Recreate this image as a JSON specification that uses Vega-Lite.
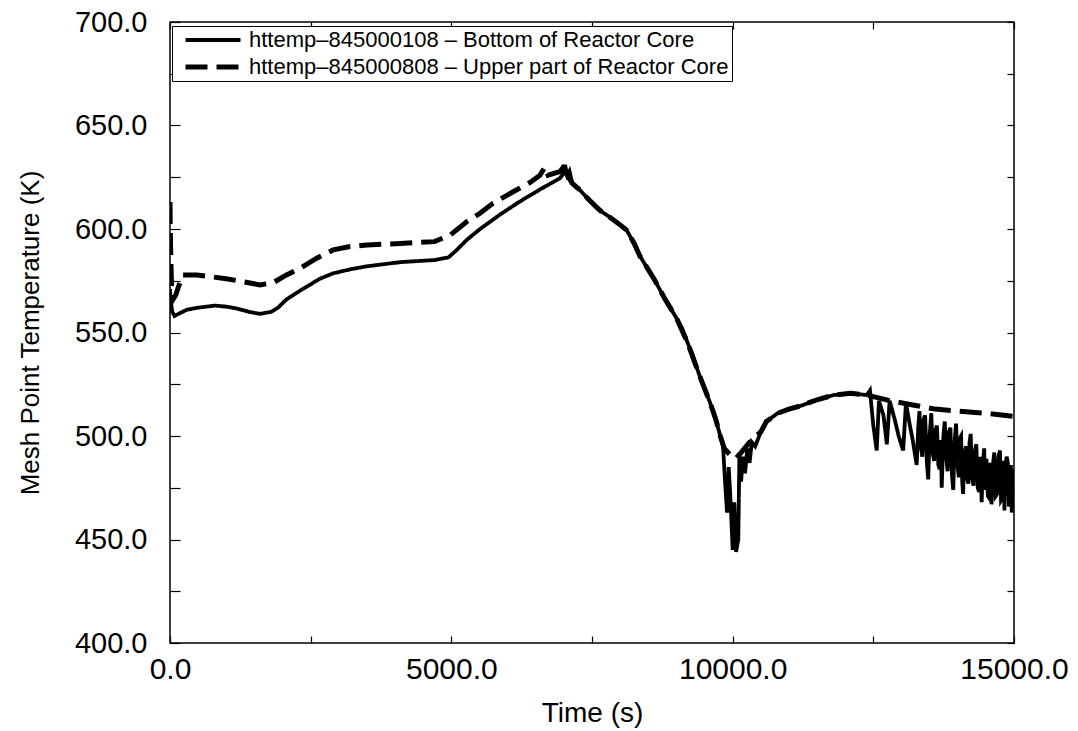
{
  "$schema": "https://vega.github.io/schema/vega-lite/v6.json",
  "width": 844,
  "height": 621,
  "autosize": {"type": "none"},
  "padding": {"left": 170, "top": 22, "right": 64, "bottom": 88},
  "background": "white",
  "config": {
    "font": "Liberation Sans",
    "view": {"stroke": "black", "strokeWidth": 1.5},
    "axis": {"grid": false, "domain": false, "tickColor": "black", "tickWidth": 1.2, "labelColor": "black", "titleColor": "black", "titleFontWeight": "normal"}
  },
  "data": {"values": [
    {"t": 0, "T": 571, "s": "B"}, {"t": 10, "T": 566, "s": "B"}, {"t": 40, "T": 560, "s": "B"}, {"t": 80, "T": 558, "s": "B"},
    {"t": 150, "T": 559, "s": "B"}, {"t": 300, "T": 561, "s": "B"}, {"t": 500, "T": 562, "s": "B"}, {"t": 800, "T": 563, "s": "B"},
    {"t": 1000, "T": 562.5, "s": "B"}, {"t": 1200, "T": 561.5, "s": "B"}, {"t": 1400, "T": 560, "s": "B"}, {"t": 1600, "T": 559, "s": "B"},
    {"t": 1800, "T": 560, "s": "B"}, {"t": 1920, "T": 562, "s": "B"}, {"t": 2070, "T": 566, "s": "B"}, {"t": 2300, "T": 570, "s": "B"},
    {"t": 2665, "T": 576, "s": "B"}, {"t": 2900, "T": 578.6, "s": "B"}, {"t": 3200, "T": 580.5, "s": "B"}, {"t": 3500, "T": 582, "s": "B"},
    {"t": 4100, "T": 584, "s": "B"}, {"t": 4700, "T": 585, "s": "B"}, {"t": 4950, "T": 586.3, "s": "B"}, {"t": 5100, "T": 590, "s": "B"},
    {"t": 5273, "T": 594.7, "s": "B"}, {"t": 5510, "T": 600, "s": "B"}, {"t": 5856, "T": 606.8, "s": "B"}, {"t": 6200, "T": 613, "s": "B"},
    {"t": 6600, "T": 619.5, "s": "B"}, {"t": 6930, "T": 624.5, "s": "B"}, {"t": 7000, "T": 627, "s": "B"}, {"t": 7020, "T": 631, "s": "B"},
    {"t": 7060, "T": 626, "s": "B"}, {"t": 7100, "T": 628, "s": "B"}, {"t": 7150, "T": 622, "s": "B"}, {"t": 7285, "T": 618.8, "s": "B"},
    {"t": 7450, "T": 614, "s": "B"}, {"t": 7640, "T": 609, "s": "B"}, {"t": 7800, "T": 606, "s": "B"}, {"t": 8000, "T": 602, "s": "B"},
    {"t": 8115, "T": 599.5, "s": "B"}, {"t": 8250, "T": 593, "s": "B"}, {"t": 8350, "T": 587, "s": "B"}, {"t": 8600, "T": 576, "s": "B"},
    {"t": 8800, "T": 566, "s": "B"}, {"t": 9000, "T": 557, "s": "B"}, {"t": 9100, "T": 552, "s": "B"}, {"t": 9200, "T": 545, "s": "B"},
    {"t": 9300, "T": 538, "s": "B"}, {"t": 9400, "T": 530, "s": "B"}, {"t": 9500, "T": 523, "s": "B"}, {"t": 9600, "T": 516, "s": "B"},
    {"t": 9700, "T": 508, "s": "B"}, {"t": 9780, "T": 500, "s": "B"}, {"t": 9830, "T": 495, "s": "B"}, {"t": 9860, "T": 480, "s": "B"},
    {"t": 9900, "T": 463, "s": "B"}, {"t": 9930, "T": 485, "s": "B"}, {"t": 9960, "T": 470, "s": "B"}, {"t": 10000, "T": 445, "s": "B"},
    {"t": 10030, "T": 468, "s": "B"}, {"t": 10060, "T": 444, "s": "B"}, {"t": 10100, "T": 450, "s": "B"}, {"t": 10120, "T": 492, "s": "B"},
    {"t": 10150, "T": 478, "s": "B"}, {"t": 10180, "T": 490, "s": "B"}, {"t": 10220, "T": 482, "s": "B"}, {"t": 10260, "T": 494, "s": "B"},
    {"t": 10300, "T": 487, "s": "B"}, {"t": 10340, "T": 497, "s": "B"}, {"t": 10400, "T": 495, "s": "B"}, {"t": 10500, "T": 502, "s": "B"},
    {"t": 10600, "T": 507, "s": "B"}, {"t": 10800, "T": 511, "s": "B"}, {"t": 11000, "T": 513, "s": "B"}, {"t": 11200, "T": 514.5, "s": "B"},
    {"t": 11500, "T": 517.5, "s": "B"}, {"t": 11800, "T": 519.8, "s": "B"}, {"t": 12090, "T": 520.6, "s": "B"}, {"t": 12385, "T": 519.8, "s": "B"},
    {"t": 12440, "T": 522, "s": "B"}, {"t": 12500, "T": 505, "s": "B"}, {"t": 12560, "T": 493, "s": "B"}, {"t": 12600, "T": 517, "s": "B"},
    {"t": 12680, "T": 510, "s": "B"}, {"t": 12740, "T": 496, "s": "B"}, {"t": 12790, "T": 517, "s": "B"}, {"t": 12880, "T": 508, "s": "B"},
    {"t": 12950, "T": 500, "s": "B"}, {"t": 13030, "T": 493, "s": "B"}, {"t": 13080, "T": 516, "s": "B"}, {"t": 13150, "T": 505, "s": "B"},
    {"t": 13200, "T": 498, "s": "B"}, {"t": 13270, "T": 486, "s": "B"}, {"t": 13300, "T": 505, "s": "B"}, {"t": 13320, "T": 512, "s": "B"},
    {"t": 13345, "T": 495, "s": "B"}, {"t": 13370, "T": 490, "s": "B"}, {"t": 13395, "T": 508, "s": "B"}, {"t": 13420, "T": 510, "s": "B"},
    {"t": 13450, "T": 488, "s": "B"}, {"t": 13475, "T": 479, "s": "B"}, {"t": 13500, "T": 500, "s": "B"}, {"t": 13530, "T": 511, "s": "B"},
    {"t": 13555, "T": 492, "s": "B"}, {"t": 13580, "T": 488, "s": "B"}, {"t": 13605, "T": 503, "s": "B"}, {"t": 13630, "T": 505, "s": "B"},
    {"t": 13655, "T": 486, "s": "B"}, {"t": 13680, "T": 484, "s": "B"}, {"t": 13700, "T": 498, "s": "B"}, {"t": 13715, "T": 475, "s": "B"},
    {"t": 13745, "T": 500, "s": "B"}, {"t": 13770, "T": 507, "s": "B"}, {"t": 13795, "T": 490, "s": "B"}, {"t": 13820, "T": 483, "s": "B"},
    {"t": 13845, "T": 502, "s": "B"}, {"t": 13870, "T": 504, "s": "B"}, {"t": 13895, "T": 482, "s": "B"}, {"t": 13920, "T": 474, "s": "B"},
    {"t": 13945, "T": 497, "s": "B"}, {"t": 13970, "T": 506, "s": "B"}, {"t": 13995, "T": 486, "s": "B"}, {"t": 14020, "T": 480, "s": "B"},
    {"t": 14040, "T": 499, "s": "B"}, {"t": 14060, "T": 500, "s": "B"}, {"t": 14080, "T": 478, "s": "B"}, {"t": 14095, "T": 472, "s": "B"},
    {"t": 14120, "T": 492, "s": "B"}, {"t": 14150, "T": 495, "s": "B"}, {"t": 14170, "T": 479, "s": "B"}, {"t": 14190, "T": 477, "s": "B"},
    {"t": 14210, "T": 497, "s": "B"}, {"t": 14230, "T": 501, "s": "B"}, {"t": 14255, "T": 480, "s": "B"}, {"t": 14280, "T": 476, "s": "B"},
    {"t": 14305, "T": 493, "s": "B"}, {"t": 14330, "T": 496, "s": "B"}, {"t": 14355, "T": 475, "s": "B"}, {"t": 14380, "T": 473, "s": "B"},
    {"t": 14400, "T": 490, "s": "B"}, {"t": 14425, "T": 468, "s": "B"}, {"t": 14450, "T": 488, "s": "B"}, {"t": 14470, "T": 494, "s": "B"},
    {"t": 14490, "T": 474, "s": "B"}, {"t": 14510, "T": 489, "s": "B"}, {"t": 14535, "T": 471, "s": "B"}, {"t": 14560, "T": 470, "s": "B"},
    {"t": 14580, "T": 487, "s": "B"}, {"t": 14600, "T": 467, "s": "B"}, {"t": 14625, "T": 486, "s": "B"}, {"t": 14650, "T": 492, "s": "B"},
    {"t": 14675, "T": 471, "s": "B"}, {"t": 14700, "T": 472, "s": "B"}, {"t": 14725, "T": 490, "s": "B"}, {"t": 14750, "T": 493, "s": "B"},
    {"t": 14770, "T": 469, "s": "B"}, {"t": 14790, "T": 470, "s": "B"}, {"t": 14810, "T": 488, "s": "B"}, {"t": 14830, "T": 464, "s": "B"},
    {"t": 14850, "T": 486, "s": "B"}, {"t": 14870, "T": 490, "s": "B"}, {"t": 14890, "T": 487, "s": "B"}, {"t": 14910, "T": 466, "s": "B"},
    {"t": 14930, "T": 468, "s": "B"}, {"t": 14945, "T": 486, "s": "B"}, {"t": 14960, "T": 463, "s": "B"}, {"t": 14975, "T": 484, "s": "B"},
    {"t": 14990, "T": 466, "s": "B"}, {"t": 15000, "T": 478, "s": "B"},
    {"t": 0, "T": 613, "s": "U"}, {"t": 5, "T": 600, "s": "U"}, {"t": 15, "T": 585, "s": "U"}, {"t": 30, "T": 570, "s": "U"},
    {"t": 55, "T": 566, "s": "U"}, {"t": 100, "T": 568, "s": "U"}, {"t": 150, "T": 572, "s": "U"}, {"t": 230, "T": 577.8, "s": "U"},
    {"t": 475, "T": 577.8, "s": "U"}, {"t": 1000, "T": 576, "s": "U"}, {"t": 1300, "T": 574.5, "s": "U"}, {"t": 1600, "T": 573, "s": "U"},
    {"t": 1830, "T": 574, "s": "U"}, {"t": 2070, "T": 577.8, "s": "U"}, {"t": 2310, "T": 581, "s": "U"}, {"t": 2600, "T": 585.8, "s": "U"},
    {"t": 2900, "T": 589.9, "s": "U"}, {"t": 3200, "T": 591.5, "s": "U"}, {"t": 3500, "T": 592.3, "s": "U"}, {"t": 4100, "T": 593, "s": "U"},
    {"t": 4700, "T": 593.9, "s": "U"}, {"t": 4976, "T": 597, "s": "U"}, {"t": 5273, "T": 603.5, "s": "U"}, {"t": 5510, "T": 607.6, "s": "U"},
    {"t": 5740, "T": 612.4, "s": "U"}, {"t": 6100, "T": 618, "s": "U"}, {"t": 6400, "T": 622.5, "s": "U"}, {"t": 6575, "T": 626, "s": "U"},
    {"t": 6665, "T": 630, "s": "U"}, {"t": 6720, "T": 626, "s": "U"}, {"t": 6930, "T": 627.7, "s": "U"}, {"t": 7020, "T": 631, "s": "U"},
    {"t": 7060, "T": 626, "s": "U"}, {"t": 7150, "T": 622, "s": "U"}, {"t": 7285, "T": 618.8, "s": "U"}, {"t": 7450, "T": 614, "s": "U"},
    {"t": 7640, "T": 609, "s": "U"}, {"t": 7800, "T": 606, "s": "U"}, {"t": 8000, "T": 602, "s": "U"}, {"t": 8115, "T": 599.5, "s": "U"},
    {"t": 8250, "T": 593, "s": "U"}, {"t": 8350, "T": 587, "s": "U"}, {"t": 8600, "T": 576, "s": "U"}, {"t": 8800, "T": 566, "s": "U"},
    {"t": 9000, "T": 557, "s": "U"}, {"t": 9200, "T": 545, "s": "U"}, {"t": 9400, "T": 530, "s": "U"}, {"t": 9600, "T": 516, "s": "U"},
    {"t": 9700, "T": 508, "s": "U"}, {"t": 9780, "T": 500, "s": "U"}, {"t": 9850, "T": 494, "s": "U"}, {"t": 9950, "T": 491, "s": "U"},
    {"t": 10050, "T": 489, "s": "U"}, {"t": 10150, "T": 492, "s": "U"}, {"t": 10300, "T": 497, "s": "U"}, {"t": 10500, "T": 502, "s": "U"},
    {"t": 10600, "T": 507, "s": "U"}, {"t": 10800, "T": 511, "s": "U"}, {"t": 11000, "T": 513, "s": "U"}, {"t": 11200, "T": 514.5, "s": "U"},
    {"t": 11500, "T": 517.5, "s": "U"}, {"t": 11800, "T": 519.8, "s": "U"}, {"t": 12090, "T": 520.6, "s": "U"}, {"t": 12385, "T": 519.8, "s": "U"},
    {"t": 12800, "T": 517, "s": "U"}, {"t": 13200, "T": 515, "s": "U"}, {"t": 13600, "T": 513, "s": "U"}, {"t": 14000, "T": 512, "s": "U"},
    {"t": 14500, "T": 511, "s": "U"}, {"t": 15000, "T": 509.5, "s": "U"}
  ]},
  "layer": [
    {
      "mark": {"type": "line", "color": "black", "strokeCap": "butt", "clip": true},
      "encoding": {
        "x": {"field": "t", "type": "quantitative", "scale": {"domain": [0, 15000], "nice": false},
          "axis": {"orient": "bottom", "title": "Time (s)", "values": [0, 2500, 5000, 7500, 10000, 12500, 15000],
            "labelExpr": "datum.value % 5000 == 0 ? format(datum.value, '.1f') : ''",
            "tickSize": -7, "labelPadding": 18, "labelFontSize": 30, "labelFlush": false, "labelOverlap": false, "labelBound": false,
            "titleFontSize": 28, "titlePadding": 15}},
        "y": {"field": "T", "type": "quantitative", "scale": {"domain": [400, 700], "nice": false, "zero": false},
          "axis": {"orient": "left", "title": "Mesh Point Temperature (K)", "values": [400, 425, 450, 475, 500, 525, 550, 575, 600, 625, 650, 675, 700],
            "labelExpr": "datum.value % 50 == 0 ? format(datum.value, '.1f') : ''",
            "tickSize": -10, "labelPadding": 33, "labelFontSize": 29, "labelOverlap": false, "labelBound": false, "labelFlush": false,
            "titleFontSize": 26, "titlePadding": 31}},
        "strokeDash": {"field": "s", "type": "nominal",
          "scale": {"domain": ["B", "U"], "range": [[1, 0], [22, 9]]},
          "legend": {"title": null, "orient": "none", "legendX": 2, "legendY": 4,
            "labelExpr": "datum.value == 'B' ? 'httemp–845000108 – Bottom of Reactor Core' : 'httemp–845000808 – Upper part of Reactor Core'",
            "symbolType": "M-4,0H4", "symbolSize": 189, "symbolStrokeWidth": 4.5, "symbolStrokeColor": "black", "symbolOffset": 27,
            "labelFontSize": 22, "labelColor": "black", "labelLimit": 1000, "labelOffset": 25,
            "strokeColor": "black", "fillColor": "white", "padding": 3, "rowPadding": 5}},
        "strokeWidth": {"field": "s", "type": "nominal", "scale": {"domain": ["B", "U"], "range": [3.8, 5]}, "legend": null}
      }
    },
    {
      "mark": {"type": "line", "opacity": 0},
      "encoding": {
        "x": {"field": "t", "type": "quantitative",
          "axis": {"orient": "top", "title": null, "labels": false, "values": [0, 2500, 5000, 7500, 10000, 12500, 15000], "tickSize": -7}},
        "y": {"field": "T", "type": "quantitative",
          "axis": {"orient": "right", "title": null, "labels": false, "values": [400, 425, 450, 475, 500, 525, 550, 575, 600, 625, 650, 675, 700], "tickSize": -7}},
        "detail": {"field": "s"}
      }
    }
  ],
  "resolve": {"axis": {"x": "independent", "y": "independent"}}
}
